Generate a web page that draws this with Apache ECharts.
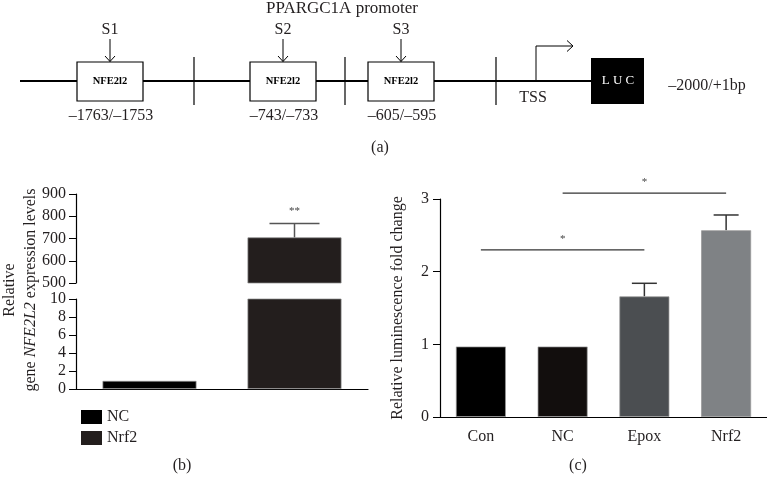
<!DOCTYPE html>
<html>
<head>
<meta charset="utf-8">
<script src="https://cdn.jsdelivr.net/npm/echarts@6/dist/echarts.min.js"></script>
<style>
html,body{margin:0;padding:0;background:#fff;}
#chart{width:767px;height:477px;}
</style>
</head>
<body>
<div id="chart"></div>
<script>
// ---------- DATA ----------
// Panel (a): promoter schematic
const promoterTitle = 'PPARGC1A promoter';
const siteLabels = ['S1', 'S2', 'S3'];
const siteRanges = ['\u20131763/\u20131753', '\u2013743/\u2013733', '\u2013605/\u2013595'];
const boxLabel = 'NFE2l2';
const constructRange = '\u20132000/+1bp';

// Panel (b): relative gene NFE2L2 expression
const bSeriesNames = ['NC', 'Nrf2'];
const bValues = [0.9, 705];
const bErrTop = [null, 767];
const bSig = '**';
const bUpperTicks = { min: 500, max: 900, interval: 100 };
const bLowerTicks = { min: 0, max: 10, interval: 2 };

// Panel (c): relative luminescence
const cCategories = ['Con', 'NC', 'Epox', 'Nrf2'];
const cValues = [0.97, 0.97, 1.66, 2.57];
const cErrTop = [null, null, 1.84, 2.78];
const cSigPairs = [[0, 2, 2.30, '*'], [1, 3, 3.08, '*']];
const cTicks = { min: 0, max: 3, interval: 1 };

// ---------- STYLE / LAYOUT ----------
const FONT = 'Liberation Serif';
const INK = '#231f20';
const FS = 16;
const bColors = ['#000000', '#231e1d'];
const cColors = ['#000000', '#120e0d', '#4b4e51', '#7f8285'];
const bBarW = 94, bGap = 51;

const chart = echarts.init(document.getElementById('chart'));

// ---- schematic graphics (panel a) ----
const lineY = 81;
const boxX = [77, 250, 368], boxW = 66, boxTop = 62, boxH = 39;
const dividers = [194, 345, 496];
const g = [];
function txt(x, y, text, size, extra) {
  return Object.assign({ type: 'text', x, y, style: { text, font: size + 'px ' + FONT, fill: INK, align: 'center', verticalAlign: 'middle' } }, extra || {});
}
g.push({ type: 'line', shape: { x1: 20, y1: lineY, x2: 591, y2: lineY }, style: { stroke: '#000', lineWidth: 2 } });
dividers.forEach(x => g.push({ type: 'line', shape: { x1: x, y1: 57, x2: x, y2: 105 }, style: { stroke: '#000', lineWidth: 1.2 } }));
siteLabels.forEach((s, i) => {
  const cx = boxX[i] + boxW / 2;
  g.push({ type: 'rect', shape: { x: boxX[i], y: boxTop, width: boxW, height: boxH }, style: { fill: '#fff', stroke: '#000', lineWidth: 1.2 } });
  g.push({ type: 'text', x: cx, y: boxTop + boxH / 2, style: { text: boxLabel, font: 'bold 10.5px ' + FONT, fill: '#000', align: 'center', verticalAlign: 'middle' } });
  g.push(txt(cx, 30, s, FS));
  g.push({ type: 'line', shape: { x1: cx, y1: 39, x2: cx, y2: boxTop - 0.5 }, style: { stroke: '#000', lineWidth: 1 } });
  g.push({ type: 'polyline', shape: { points: [[cx - 5, boxTop - 6], [cx, boxTop - 0.5], [cx + 5, boxTop - 6]] }, style: { stroke: '#000', lineWidth: 1, fill: null } });
  g.push(txt(cx + 1, 116, siteRanges[i], FS));
});
// TSS arrow
g.push({ type: 'polyline', shape: { points: [[536, lineY], [536, 46], [573, 46]] }, style: { stroke: '#000', lineWidth: 1, fill: null } });
g.push({ type: 'polyline', shape: { points: [[567, 40.5], [573, 46], [567, 51.5]] }, style: { stroke: '#000', lineWidth: 1, fill: null } });
g.push(txt(533, 98, 'TSS', FS));
// LUC box
g.push({ type: 'rect', shape: { x: 591, y: 58, width: 53, height: 46 }, style: { fill: '#000' } });
g.push({ type: 'text', x: 618, y: 81, style: { text: 'L U C', font: '13px ' + FONT, fill: '#fff', align: 'center', verticalAlign: 'middle' } });
g.push(txt(707, 86, constructRange, FS));
g.push(txt(342, 9, promoterTitle, 17));
// panel captions
g.push(txt(380, 148, '(a)', FS));
g.push(txt(182, 466, '(b)', FS));
g.push(txt(578, 466, '(c)', FS));
// panel b y-axis title
g.push({ type: 'text', x: 20, y: 290, rotation: Math.PI / 2, style: {
  text: '{n|Relative}\n{n|gene }{i|NFE2L2}{n| expression levels}',
  align: 'center', verticalAlign: 'middle', lineHeight: 21,
  rich: { n: { fontFamily: FONT, fontSize: FS, fill: INK, lineHeight: 21 }, i: { fontFamily: FONT, fontSize: FS, fontStyle: 'italic', fill: INK, lineHeight: 21 } }
} });

const axisLabelStyle = { fontFamily: FONT, fontSize: FS, color: INK };
const axisLineStyle = { lineStyle: { color: '#000', width: 1.2 } };

function errRender(offsetPx, capHalf, color, sigText) {
  return function (params, api) {
    const x = api.value(0);
    const base = api.coord([x, api.value(1)]);
    const top = api.coord([x, api.value(2)]);
    const cx = base[0] + offsetPx;
    const children = [
      { type: 'line', shape: { x1: cx, y1: base[1], x2: cx, y2: top[1] }, style: { stroke: color, lineWidth: 1.5 } },
      { type: 'line', shape: { x1: cx - capHalf, y1: top[1], x2: cx + capHalf, y2: top[1] }, style: { stroke: color, lineWidth: 1.5 } }
    ];
    if (sigText) children.push({ type: 'text', x: cx, y: top[1] - 12, style: { text: sigText, font: '11px ' + FONT, fill: '#444', align: 'center', verticalAlign: 'middle' } });
    return { type: 'group', children };
  };
}

const bErrData = bValues.map((v, i) => [0, v, bErrTop[i]]).filter(d => d[2] != null);
const cErrData = cValues.map((v, i) => [i, v, cErrTop[i]]).filter(d => d[2] != null);

const series = [];
[0, 1].forEach(gi => {
  bSeriesNames.forEach((name, i) => {
    series.push({
      name, type: 'bar', xAxisIndex: gi, yAxisIndex: gi, data: [bValues[i]],
      barWidth: bBarW, barGap: (bGap / bBarW * 100) + '%', clip: true,
      itemStyle: { color: bColors[i], borderColor: 'rgba(140,140,140,0.9)', borderWidth: 0.8 },
      silent: true
    });
  });
});
series.push({
  type: 'custom', xAxisIndex: 0, yAxisIndex: 0, data: bErrData, silent: true, z: 3,
  renderItem: errRender((bBarW + bGap) / 2, 25, '#555', bSig)
});
series.push({
  name: 'Luminescence', type: 'bar', xAxisIndex: 2, yAxisIndex: 2, barWidth: 50, silent: true,
  data: cValues.map((v, i) => ({ value: v, itemStyle: { color: cColors[i] } })),
  itemStyle: { borderColor: 'rgba(150,150,150,0.9)', borderWidth: 0.8 }
});
series.push({
  type: 'custom', xAxisIndex: 2, yAxisIndex: 2, data: cErrData, silent: true, z: 1,
  renderItem: errRender(0, 12.5, '#333', null)
});
series.push({
  type: 'custom', xAxisIndex: 2, yAxisIndex: 2, silent: true, clip: false,
  data: cSigPairs.map(p => [p[0], p[1], p[2]]),
  renderItem: function (params, api) {
    const a = api.coord([api.value(0), api.value(2)]);
    const b = api.coord([api.value(1), api.value(2)]);
    return { type: 'group', children: [
      { type: 'line', shape: { x1: a[0], y1: a[1], x2: b[0], y2: b[1] }, style: { stroke: '#333', lineWidth: 1.3 } },
      { type: 'text', x: (a[0] + b[0]) / 2, y: a[1] - 11, style: { text: cSigPairs[params.dataIndex][3], font: '11px ' + FONT, fill: '#444', align: 'center', verticalAlign: 'middle' } }
    ] };
  }
});

chart.setOption({
  animation: false,
  backgroundColor: '#fff',
  graphic: g,
  legend: {
    data: bSeriesNames, orient: 'vertical', left: 76, top: 404, itemWidth: 21, itemHeight: 14, itemGap: 5,
    icon: 'rect', selectedMode: false,
    itemStyle: { borderWidth: 0 },
    textStyle: { fontFamily: FONT, fontSize: FS, color: INK }
  },
  grid: [
    { left: 76, top: 194, width: 292, height: 89 },
    { left: 76, top: 299, width: 292, height: 90 },
    { left: 440, top: 199, width: 327, height: 218 }
  ],
  xAxis: [
    { type: 'category', gridIndex: 0, data: [''], show: false },
    { type: 'category', gridIndex: 1, data: [''], axisLine: axisLineStyle,
      axisTick: { alignWithLabel: true, length: 6, lineStyle: { color: '#000' } }, axisLabel: { show: false } },
    { type: 'category', gridIndex: 2, data: cCategories, axisLine: axisLineStyle,
      axisTick: { alignWithLabel: true, length: 6, lineStyle: { color: '#000' } },
      axisLabel: Object.assign({ margin: 12 }, axisLabelStyle) }
  ],
  yAxis: [
    { type: 'value', gridIndex: 0, min: bUpperTicks.min, max: bUpperTicks.max, interval: bUpperTicks.interval,
      axisLine: Object.assign({ show: true }, axisLineStyle), axisTick: { show: true, length: 7, lineStyle: { color: '#000' } },
      axisLabel: Object.assign({ margin: 10 }, axisLabelStyle), splitLine: { show: false } },
    { type: 'value', gridIndex: 1, min: bLowerTicks.min, max: bLowerTicks.max, interval: bLowerTicks.interval,
      axisLine: Object.assign({ show: true }, axisLineStyle), axisTick: { show: true, length: 7, lineStyle: { color: '#000' } },
      axisLabel: Object.assign({ margin: 10 }, axisLabelStyle), splitLine: { show: false } },
    { type: 'value', gridIndex: 2, min: cTicks.min, max: cTicks.max, interval: cTicks.interval,
      axisLine: Object.assign({ show: true }, axisLineStyle), axisTick: { show: true, length: 7, lineStyle: { color: '#000' } },
      axisLabel: Object.assign({ margin: 11 }, axisLabelStyle), splitLine: { show: false },
      name: 'Relative luminescence fold change', nameLocation: 'middle', nameGap: 34,
      nameTextStyle: { fontFamily: FONT, fontSize: FS, color: INK } }
  ],
  series
});
</script>
</body>
</html>
